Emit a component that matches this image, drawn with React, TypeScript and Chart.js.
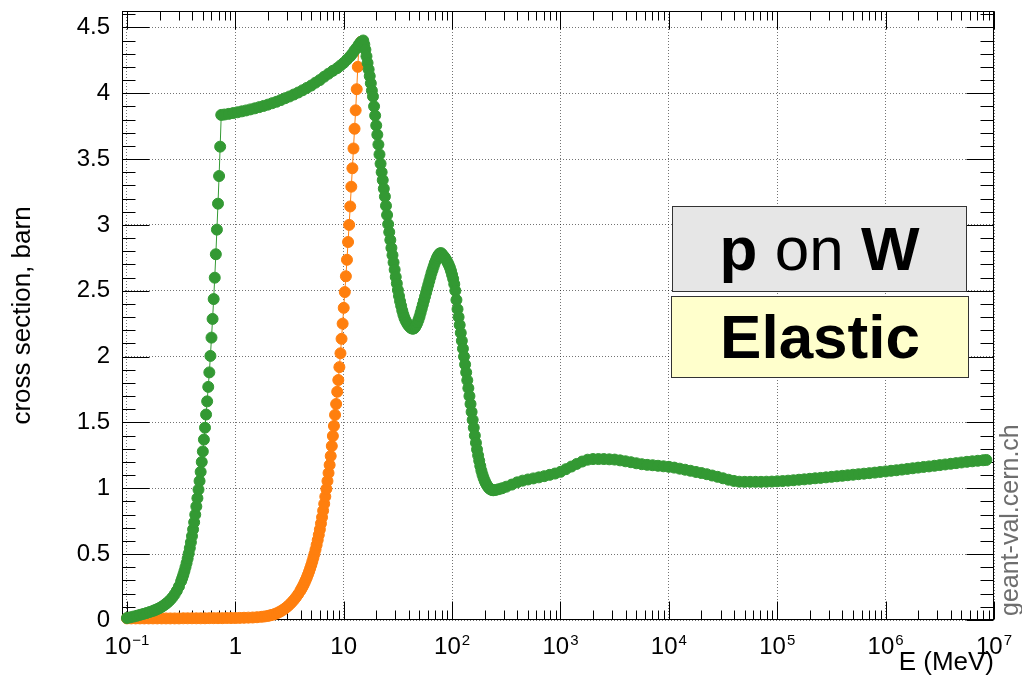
import React, { useEffect, useRef } from 'react';
import { Chart, registerables } from 'chart.js';

Chart.register(...registerables);

const FONT = "'Liberation Sans', Arial, Helvetica, sans-serif";
const GREEN = '#339933';
const ORANGE = '#ff7f0e';
const GRID = 'rgba(0,0,0,0.55)';

// ---- data (energy given as log10(E / MeV), cross section in barn) ----
const greenLog10E = [
  -1.0, -0.97, -0.94, -0.91, -0.88, -0.85, -0.82, -0.79, -0.76, -0.74, -0.72, -0.7, -0.68, -0.66, -0.64, -0.62,
  -0.6, -0.58, -0.56, -0.54, -0.52, -0.5, -0.49, -0.48, -0.47, -0.46, -0.45, -0.44, -0.43, -0.42, -0.41, -0.4,
  -0.39, -0.38, -0.37, -0.36, -0.35, -0.34, -0.33, -0.32, -0.31, -0.3, -0.29, -0.28, -0.27, -0.26, -0.25, -0.24,
  -0.23, -0.22, -0.21, -0.2, -0.19, -0.18, -0.17, -0.16, -0.15, -0.14, -0.13, -0.1, -0.06, -0.02, 0.02, 0.06,
  0.1, 0.14, 0.18, 0.22, 0.26, 0.3, 0.34, 0.38, 0.42, 0.46, 0.5, 0.54, 0.58, 0.62, 0.66, 0.7,
  0.74, 0.78, 0.82, 0.86, 0.9, 0.94, 0.97, 1.0, 1.03, 1.06, 1.08, 1.1, 1.12, 1.14, 1.16, 1.18,
  1.19, 1.2, 1.21, 1.22, 1.23, 1.24, 1.25, 1.26, 1.27, 1.28, 1.29, 1.3, 1.31, 1.32, 1.33, 1.34,
  1.35, 1.36, 1.37, 1.38, 1.39, 1.4, 1.41, 1.42, 1.43, 1.44, 1.45, 1.46, 1.47, 1.48, 1.49, 1.5,
  1.51, 1.52, 1.53, 1.54, 1.55, 1.56, 1.57, 1.58, 1.59, 1.6, 1.61, 1.62, 1.63, 1.64, 1.65, 1.66,
  1.67, 1.68, 1.69, 1.7, 1.71, 1.72, 1.73, 1.74, 1.75, 1.76, 1.77, 1.78, 1.79, 1.8, 1.81, 1.82,
  1.83, 1.84, 1.85, 1.86, 1.87, 1.88, 1.89, 1.9, 1.91, 1.92, 1.93, 1.94, 1.95, 1.96, 1.97, 1.98,
  1.99, 2.0, 2.01, 2.02, 2.03, 2.04, 2.05, 2.06, 2.07, 2.08, 2.09, 2.1, 2.11, 2.12, 2.13, 2.14,
  2.15, 2.16, 2.17, 2.18, 2.19, 2.2, 2.21, 2.22, 2.23, 2.24, 2.25, 2.26, 2.27, 2.28, 2.29, 2.3,
  2.31, 2.32, 2.33, 2.34, 2.35, 2.36, 2.37, 2.38, 2.4, 2.43, 2.46, 2.5, 2.55, 2.6, 2.65, 2.7,
  2.75, 2.8, 2.85, 2.9, 2.95, 3.0, 3.05, 3.1, 3.15, 3.2, 3.25, 3.3, 3.35, 3.4, 3.45, 3.5,
  3.55, 3.6, 3.65, 3.7, 3.75, 3.8, 3.85, 3.9, 3.95, 4.0, 4.05, 4.1, 4.15, 4.2, 4.25, 4.3,
  4.35, 4.4, 4.45, 4.5, 4.55, 4.6, 4.65, 4.7, 4.75, 4.8, 4.85, 4.9, 4.95, 5.0, 5.05, 5.1,
  5.15, 5.2, 5.25, 5.3, 5.35, 5.4, 5.45, 5.5, 5.55, 5.6, 5.65, 5.7, 5.75, 5.8, 5.85, 5.9,
  5.95, 6.0, 6.05, 6.1, 6.15, 6.2, 6.25, 6.3, 6.35, 6.4, 6.45, 6.5, 6.55, 6.6, 6.65, 6.7,
  6.75, 6.8, 6.85, 6.9, 6.93,
];
const greenXS = [
  0.015, 0.02, 0.026, 0.032, 0.039, 0.046, 0.053, 0.061, 0.069, 0.076, 0.083, 0.091, 0.1, 0.111, 0.123, 0.137,
  0.153, 0.172, 0.195, 0.222, 0.255, 0.295, 0.318, 0.343, 0.37, 0.4, 0.432, 0.467, 0.505, 0.546, 0.59, 0.637,
  0.688, 0.742, 0.8, 0.862, 0.925, 0.99, 1.055, 1.125, 1.2, 1.28, 1.37, 1.46, 1.56, 1.66, 1.77, 1.88,
  2.005, 2.144, 2.286, 2.437, 2.599, 2.777, 2.964, 3.161, 3.371, 3.594, 3.835, 3.838, 3.843, 3.849, 3.855, 3.862,
  3.869, 3.877, 3.885, 3.894, 3.903, 3.913, 3.924, 3.935, 3.948, 3.962, 3.975, 3.99, 4.005, 4.022, 4.04, 4.058,
  4.08, 4.1, 4.125, 4.148, 4.17, 4.19, 4.21, 4.23, 4.255, 4.28, 4.3, 4.325, 4.345, 4.37, 4.39, 4.4,
  4.37, 4.33, 4.28, 4.23, 4.18, 4.13, 4.075, 4.02, 3.975, 3.9, 3.83, 3.755, 3.685, 3.61, 3.535, 3.465,
  3.4, 3.34, 3.275, 3.215, 3.145, 3.075, 3.005, 2.945, 2.885, 2.825, 2.77, 2.715, 2.66, 2.605, 2.555, 2.505,
  2.46, 2.42, 2.385, 2.35, 2.32, 2.295, 2.275, 2.26, 2.245, 2.235, 2.225, 2.218, 2.213, 2.212, 2.215, 2.225,
  2.24, 2.258, 2.28, 2.305, 2.335, 2.365, 2.395, 2.425, 2.455, 2.485, 2.515, 2.545, 2.575, 2.605, 2.635, 2.66,
  2.685, 2.71, 2.73, 2.75, 2.765, 2.778, 2.785, 2.785, 2.775, 2.765, 2.755, 2.742, 2.728, 2.712, 2.695, 2.675,
  2.65, 2.62, 2.59, 2.55, 2.5, 2.43, 2.36, 2.3, 2.24, 2.18, 2.12, 2.06, 2.0, 1.94, 1.88, 1.82,
  1.76, 1.7, 1.64, 1.58, 1.52, 1.46, 1.4, 1.345, 1.295, 1.25, 1.21, 1.17, 1.135, 1.105, 1.08, 1.058,
  1.04, 1.025, 1.012, 1.002, 0.995, 0.99, 0.987, 0.985, 0.987, 0.993, 1.0, 1.012, 1.028, 1.045, 1.058, 1.067,
  1.075, 1.083, 1.092, 1.102, 1.112, 1.125, 1.145, 1.165, 1.185, 1.203, 1.217, 1.222, 1.222, 1.222, 1.22, 1.218,
  1.212, 1.205, 1.198, 1.19, 1.183, 1.178, 1.175, 1.171, 1.167, 1.163, 1.157, 1.149, 1.141, 1.133, 1.124, 1.116,
  1.107, 1.097, 1.087, 1.076, 1.065, 1.056, 1.05, 1.049, 1.049, 1.049, 1.049, 1.05, 1.051, 1.053, 1.055, 1.058,
  1.061, 1.065, 1.068, 1.072, 1.076, 1.079, 1.083, 1.087, 1.091, 1.095, 1.099, 1.103, 1.107, 1.111, 1.115, 1.119,
  1.124, 1.128, 1.133, 1.137, 1.142, 1.147, 1.152, 1.157, 1.162, 1.166, 1.171, 1.176, 1.181, 1.186, 1.191, 1.196,
  1.201, 1.205, 1.209, 1.213, 1.215,
];

const orangeLog10E = [
  -1.0, -0.96, -0.92, -0.88, -0.84, -0.8, -0.76, -0.72, -0.68, -0.64, -0.6, -0.56, -0.52, -0.48, -0.44, -0.4,
  -0.36, -0.32, -0.28, -0.24, -0.2, -0.16, -0.12, -0.08, -0.04, 0.0, 0.04, 0.08, 0.12, 0.16, 0.2, 0.24,
  0.27, 0.3, 0.32, 0.34, 0.36, 0.38, 0.4, 0.42, 0.44, 0.46, 0.48, 0.5, 0.52, 0.54, 0.56, 0.58,
  0.6, 0.61, 0.62, 0.63, 0.64, 0.65, 0.66, 0.67, 0.68, 0.69, 0.7, 0.71, 0.72, 0.73, 0.74, 0.75,
  0.76, 0.77, 0.78, 0.79, 0.8, 0.81, 0.82, 0.83, 0.84, 0.85, 0.86, 0.87, 0.88, 0.89, 0.9, 0.91,
  0.92, 0.93, 0.94, 0.95, 0.96, 0.97, 0.98, 0.99, 1.0, 1.01, 1.02, 1.03, 1.04, 1.05, 1.06, 1.07,
  1.08, 1.09, 1.1, 1.11, 1.12, 1.13, 1.14, 1.16,
];
const orangeXS = [
  0.012, 0.012, 0.012, 0.012, 0.012, 0.012, 0.012, 0.012, 0.012, 0.012, 0.012, 0.012, 0.012, 0.013, 0.013, 0.013,
  0.013, 0.013, 0.013, 0.014, 0.014, 0.014, 0.014, 0.015, 0.015, 0.015, 0.016, 0.017, 0.018, 0.019, 0.021, 0.024,
  0.027, 0.031, 0.035, 0.039, 0.044, 0.05, 0.058, 0.067, 0.077, 0.089, 0.102, 0.117, 0.134, 0.152, 0.173, 0.196,
  0.222, 0.237, 0.252, 0.268, 0.286, 0.304, 0.324, 0.345, 0.367, 0.391, 0.416, 0.443, 0.472, 0.502, 0.535, 0.57,
  0.607, 0.646, 0.688, 0.733, 0.78, 0.83, 0.882, 0.937, 0.995, 1.055, 1.116, 1.177, 1.245, 1.321, 1.397, 1.473,
  1.557, 1.64, 1.733, 1.822, 1.92, 2.025, 2.135, 2.25, 2.37, 2.49, 2.61, 2.735, 2.87, 3.0, 3.14, 3.29,
  3.43, 3.58, 3.73, 3.87, 4.03, 4.2, 4.36, 4.39,
];

// ---- axes ----
const xMin = 0.09;
const xMax = 1e7;
const yMin = 0;
const yMax = 4.624;
const xMajorTicks = [0.1, 1, 10, 100, 1e3, 1e4, 1e5, 1e6, 1e7];
// tick labels: base and exponent ('' = no exponent)
const xMajorBase = ['10', '1', '10', '10', '10', '10', '10', '10', '10'];
const xMajorExp = ['\u22121', '', '', '2', '3', '4', '5', '6', '7'];
const xMinorMultipliers = [2, 3, 4, 5, 6, 7, 8, 9];
const yMajorTicks = [0, 0.5, 1, 1.5, 2, 2.5, 3, 3.5, 4, 4.5];
const yMajorLabels = ['0', '0.5', '1', '1.5', '2', '2.5', '3', '3.5', '4', '4.5'];
const yMinorCount = 46; // minor ticks every 0.1

const xTitle = 'E (MeV)';
const yTitle = 'cross section, barn';
const watermark = 'geant-val.cern.ch';

const xMajorIndex = (v: number) => xMajorTicks.findIndex((m) => Math.abs(Math.log10(v) - Math.log10(m)) < 1e-6);
const yMajorIndex = (v: number) => yMajorTicks.findIndex((m) => Math.abs(v - m) < 1e-6);

function buildXTicks() {
  const vals: number[] = [];
  const decades = [0.01, 0.1, 1, 10, 100, 1e3, 1e4, 1e5, 1e6];
  decades.forEach((d) => xMinorMultipliers.forEach((m) => vals.push(m * d)));
  xMajorTicks.forEach((v) => vals.push(v));
  return vals
    .filter((v) => v >= xMin * 0.999 && v <= xMax * 1.0001)
    .sort((a, b) => a - b)
    .map((value) => ({ value, major: xMajorIndex(value) >= 0 }));
}
function buildYTicks() {
  const out: { value: number; major: boolean }[] = [];
  for (let i = 0; i <= yMinorCount; i++) {
    const value = Math.round(i) / 10;
    if (value <= yMax) out.push({ value, major: yMajorIndex(value) >= 0 });
  }
  return out;
}

const framePlugin = {
  id: 'rootFrame',
  beforeDatasetsDraw(chart: any) {
    const { ctx, chartArea: a, scales } = chart;
    const xs = scales.x;
    const ys = scales.y;
    const L = Math.round(a.left) + 0.5;
    const R = Math.round(a.right) - 0.5;
    const T = Math.round(a.top) + 0.5;
    const B = Math.round(a.bottom) - 0.5;
    ctx.save();
    ctx.strokeStyle = '#000';
    ctx.lineWidth = 1;
    ctx.setLineDash([]);
    ctx.beginPath();
    xs.ticks.forEach((t: any) => {
      const p = Math.round(xs.getPixelForValue(t.value)) + 0.5;
      if (p < a.left - 1 || p > a.right + 1) return;
      const len = xMajorIndex(t.value) >= 0 ? 18 : 9;
      ctx.moveTo(p, B);
      ctx.lineTo(p, B - len);
      ctx.moveTo(p, T);
      ctx.lineTo(p, T + len);
    });
    ys.ticks.forEach((t: any) => {
      const p = Math.round(ys.getPixelForValue(t.value)) + 0.5;
      if (p < a.top - 1 || p > a.bottom + 1) return;
      const len = yMajorIndex(t.value) >= 0 ? 27 : 13;
      ctx.moveTo(L, p);
      ctx.lineTo(L + len, p);
      ctx.moveTo(R, p);
      ctx.lineTo(R - len, p);
    });
    ctx.stroke();
    ctx.strokeRect(L, T, R - L, B - T);
    ctx.restore();
  },
  afterDraw(chart: any) {
    const { ctx, chartArea: a, scales } = chart;
    const xs = scales.x;
    ctx.save();
    // x tick labels with superscript exponents, placed by the x scale
    ctx.fillStyle = '#000';
    ctx.textBaseline = 'alphabetic';
    ctx.textAlign = 'left';
    const baseFont = `24px ${FONT}`;
    const expFont = `15px ${FONT}`;
    const baseline = Math.round(a.bottom) + 34;
    xMajorTicks.forEach((v, i) => {
      const p = xs.getPixelForValue(v);
      ctx.font = baseFont;
      const wb = ctx.measureText(xMajorBase[i]).width;
      ctx.font = expFont;
      const we = xMajorExp[i] ? ctx.measureText(xMajorExp[i]).width + 1 : 0;
      const x0 = p - (wb + we) / 2;
      ctx.font = baseFont;
      ctx.fillText(xMajorBase[i], x0, baseline);
      if (xMajorExp[i]) {
        ctx.font = expFont;
        ctx.fillText(xMajorExp[i], x0 + wb + 1, baseline - 9);
      }
    });
    // watermark
    ctx.translate(1011, 616);
    ctx.rotate(-Math.PI / 2);
    ctx.font = `25px ${FONT}`;
    ctx.fillStyle = '#6e6e6e';
    ctx.textAlign = 'left';
    ctx.textBaseline = 'middle';
    ctx.fillText(watermark, 0, 0);
    ctx.restore();
  },
};

function ChartCanvas() {
  const ref = useRef<HTMLCanvasElement | null>(null);
  useEffect(() => {
    if (!ref.current) return;
    const green = greenLog10E.map((l, i) => ({ x: Math.pow(10, l), y: greenXS[i] }));
    const orange = orangeLog10E.map((l, i) => ({ x: Math.pow(10, l), y: orangeXS[i] }));
    const ds = (label: string, data: any[], color: string) => ({
      label,
      data,
      borderColor: color,
      backgroundColor: color,
      borderWidth: 1,
      pointRadius: 5.5,
      pointBorderWidth: 1,
      pointBackgroundColor: color,
      pointBorderColor: color,
      pointStyle: 'circle',
      tension: 0,
      clip: false as any,
      fill: false,
    });
    const chart = new Chart(ref.current, {
      type: 'line',
      data: { datasets: [ds('green', green, GREEN), ds('orange', orange, ORANGE)] as any },
      plugins: [framePlugin],
      options: {
        animation: false,
        responsive: false,
        devicePixelRatio: 1,
        events: [],
        layout: { padding: { left: 0, right: 28, top: 11, bottom: 0 } },
        plugins: { legend: { display: false }, tooltip: { enabled: false } },
        scales: {
          x: {
            type: 'logarithmic',
            min: xMin,
            max: xMax,
            afterBuildTicks: (s: any) => {
              s.ticks = buildXTicks();
            },
            afterFit: (s: any) => {
              s.height = 60;
              s.paddingLeft = 0;
              s.paddingRight = 0;
            },
            ticks: { display: false, autoSkip: false },
            grid: {
              drawTicks: false,
              lineWidth: 1,
              color: (c: any) => (c.tick && xMajorIndex(c.tick.value) >= 0 ? GRID : 'rgba(0,0,0,0)'),
            },
            border: { display: false, dash: [1, 2] },
            title: {
              display: true,
              text: xTitle,
              align: 'end',
              color: '#000',
              font: { family: FONT, size: 26 },
              padding: { top: 0, bottom: 2 },
            },
          },
          y: {
            type: 'linear',
            min: yMin,
            max: yMax,
            afterBuildTicks: (s: any) => {
              s.ticks = buildYTicks();
            },
            afterFit: (s: any) => {
              s.width = 122;
              s.paddingTop = 0;
              s.paddingBottom = 0;
            },
            ticks: {
              autoSkip: false,
              padding: 12,
              color: '#000',
              font: { family: FONT, size: 24 },
              callback: (v: any) => {
                const i = yMajorIndex(Number(v));
                return i >= 0 ? yMajorLabels[i] : '';
              },
            },
            grid: {
              drawTicks: false,
              lineWidth: 1,
              color: (c: any) => (c.tick && yMajorIndex(c.tick.value) >= 0 ? GRID : 'rgba(0,0,0,0)'),
            },
            border: { display: false, dash: [1, 2] },
            title: {
              display: true,
              text: yTitle,
              color: '#000',
              font: { family: FONT, size: 26 },
              padding: { top: 7, bottom: 0 },
            },
          },
        },
      } as any,
    });
    return () => chart.destroy();
  }, []);
  return <canvas ref={ref} width={1022} height={680} style={{ display: 'block', width: 1022, height: 680 }} />;
}

const boxBase: React.CSSProperties = {
  position: 'absolute',
  boxSizing: 'border-box',
  border: '1px solid #333',
  display: 'flex',
  alignItems: 'center',
  justifyContent: 'center',
  fontFamily: FONT,
  fontSize: 62,
  color: '#000',
  lineHeight: 1,
  whiteSpace: 'nowrap',
};

export default function App() {
  return (
    <div style={{ position: 'absolute', left: 0, top: 0, width: 1022, height: 680, background: '#fff', overflow: 'hidden' }}>
      <ChartCanvas />
      <div style={{ ...boxBase, left: 672, top: 206, width: 295, height: 86, background: '#e6e6e6' }}>
        <span>
          <b>p</b> on <b>W</b>
        </span>
      </div>
      <div style={{ ...boxBase, left: 671, top: 296, width: 298, height: 82, background: '#ffffcc', fontWeight: 'bold' }}>
        <span>Elastic</span>
      </div>
    </div>
  );
}
